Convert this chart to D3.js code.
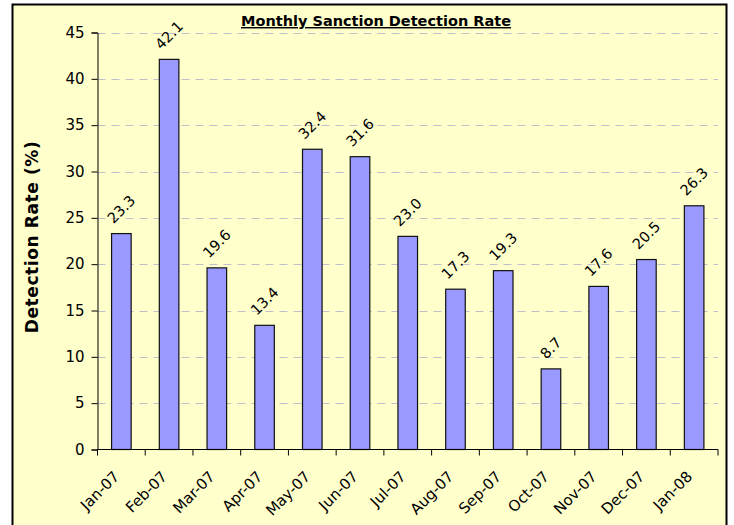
<!DOCTYPE html>
<html>
<head>
<meta charset="utf-8">
<script src="https://cdn.jsdelivr.net/npm/d3@7"></script>
<style>
  body { margin: 0; background: #fff; }
  svg { display: block; font-family: "DejaVu Sans", Verdana, sans-serif; }
</style>
</head>
<body>
<svg id="chart" width="734" height="525"></svg>
<script>
var months = ['Jan-07', 'Feb-07', 'Mar-07', 'Apr-07', 'May-07', 'Jun-07', 'Jul-07',
  'Aug-07', 'Sep-07', 'Oct-07', 'Nov-07', 'Dec-07', 'Jan-08'];
var rates = [23.3, 42.1, 19.6, 13.4, 32.4, 31.6, 23.0, 17.3, 19.3, 8.7, 17.6, 20.5, 26.3];
var yTicks = [0, 5, 10, 15, 20, 25, 30, 35, 40, 45];

var svg = d3.select('#chart');
var plotLeft = 97.5, plotRight = 718, plotTop = 32.5, plotBottom = 449.5;

// chart area box
svg.append('rect')
  .attr('x', 12.5).attr('y', 4.5)
  .attr('width', 714).attr('height', 540)
  .attr('fill', '#ffffcc')
  .attr('stroke', '#000')
  .attr('stroke-width', 2);

var x = d3.scaleBand().domain(months).range([plotLeft, plotRight]).padding(0);
var y = d3.scaleLinear().domain([0, 45]).range([plotBottom, plotTop]);

// gridlines
svg.append('g').selectAll('line')
  .data(yTicks.filter(function (d) { return d > 0; }))
  .enter().append('line')
  .attr('x1', plotLeft).attr('x2', plotRight)
  .attr('y1', function (d) { return Math.round(y(d)) + 0.5; })
  .attr('y2', function (d) { return Math.round(y(d)) + 0.5; })
  .attr('stroke', '#c0c0cc')
  .attr('stroke-dasharray', '8,6');

// bars
var barW = x.bandwidth() * 0.41;
svg.append('g').selectAll('rect')
  .data(rates)
  .enter().append('rect')
  .attr('x', function (d, i) { return x(months[i]) + x.bandwidth() / 2 - barW / 2; })
  .attr('y', function (d) { return y(d); })
  .attr('width', barW)
  .attr('height', function (d) { return plotBottom - y(d); })
  .attr('fill', '#9999ff')
  .attr('stroke', '#111')
  .attr('stroke-width', 1.2);

// value labels, rotated and centred over each bar
var labelSize = 14.5;
svg.append('g').selectAll('text')
  .data(rates)
  .enter().append('text')
  .attr('text-anchor', 'middle')
  .attr('dominant-baseline', 'central')
  .style('font-size', labelSize + 'px')
  .attr('fill', '#000')
  .text(function (d) { return d.toFixed(1); })
  .attr('transform', function (d, i) {
    var len = this.getComputedTextLength();
    var half = (len + labelSize * 0.73) * 0.7071 / 2;
    return 'translate(' + (x(months[i]) + x.bandwidth() / 2) + ',' + (y(d) - 9 - half) + ') rotate(-45)';
  });

// y axis
var yAxis = svg.append('g')
  .attr('transform', 'translate(' + plotLeft + ',0)')
  .call(d3.axisLeft(y).tickValues(yTicks).tickSize(6).tickPadding(7));
yAxis.select('.domain').attr('stroke', '#000');
yAxis.selectAll('text').style('font-size', '15px').attr('fill', '#000')
  .style('font-family', '"DejaVu Sans", Verdana, sans-serif');

// x axis: ticks at category boundaries
svg.append('line')
  .attr('x1', plotLeft).attr('x2', plotRight)
  .attr('y1', plotBottom).attr('y2', plotBottom)
  .attr('stroke', '#000');
svg.append('g').selectAll('line')
  .data(months.concat(['end']))
  .enter().append('line')
  .attr('x1', function (d, i) { return plotLeft + i * x.step(); })
  .attr('x2', function (d, i) { return plotLeft + i * x.step(); })
  .attr('y1', plotBottom).attr('y2', plotBottom + 6)
  .attr('stroke', '#000');
svg.append('g').selectAll('text')
  .data(months)
  .enter().append('text')
  .attr('transform', function (d) {
    return 'translate(' + (x(d) + x.bandwidth() / 2 - 1) + ',' + (plotBottom + 28) + ') rotate(-45)';
  })
  .attr('text-anchor', 'end')
  .style('font-size', '15px')
  .attr('fill', '#000')
  .text(function (d) { return d; });

// title
svg.append('text')
  .attr('x', 376).attr('y', 26)
  .attr('text-anchor', 'middle')
  .style('font-size', '14.5px')
  .style('font-weight', 'bold')
  .style('text-decoration', 'underline')
  .text('Monthly Sanction Detection Rate');

// y axis title
svg.append('text')
  .attr('transform', 'translate(38,' + ((plotTop + plotBottom) / 2 - 4) + ') rotate(-90)')
  .attr('text-anchor', 'middle')
  .style('font-size', '17px')
  .style('font-weight', 'bold')
  .style('letter-spacing', '0.6px')
  .text('Detection Rate (%)');
</script>
</body>
</html>
